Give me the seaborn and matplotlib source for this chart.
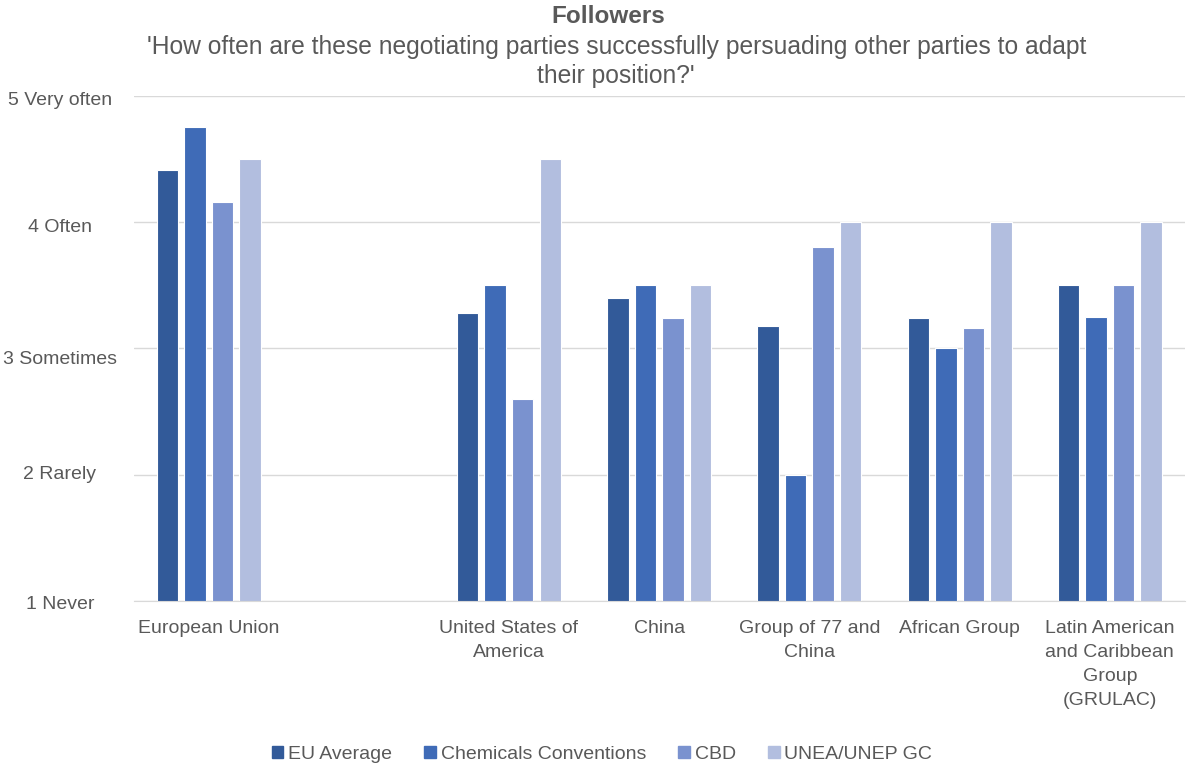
import numpy as np
import pandas as pd
import seaborn as sns
import matplotlib.pyplot as plt
from matplotlib.transforms import ScaledTranslation

# Chart data
categories = [
    "European Union",
    "",
    "United States of\nAmerica",
    "China",
    "Group of 77 and\nChina",
    "African Group",
    "Latin American\nand Caribbean\nGroup\n(GRULAC)",
]
series = ["EU Average", "Chemicals Conventions", "CBD", "UNEA/UNEP GC"]
eu_average = [4.41, np.nan, 3.28, 3.40, 3.18, 3.24, 3.50]
chemicals = [4.75, np.nan, 3.50, 3.50, 2.00, 3.00, 3.25]
cbd = [4.16, np.nan, 2.60, 3.24, 3.80, 3.16, 3.50]
unea = [4.50, np.nan, 4.50, 3.50, 4.00, 4.00, 4.00]
y_ticks = [1, 2, 3, 4, 5]
y_labels = ["1 Never", "2 Rarely", "3 Sometimes", "4 Often", "5 Very often"]

colors = ["#325A99", "#3F6BB7", "#7A92CF", "#B2BEDF"]
TEXT = "#595959"

rows = []
for name, vals in zip(series, [eu_average, chemicals, cbd, unea]):
    for cat, v in zip(categories, vals):
        rows.append({"party": cat, "series": name, "score": v})
df = pd.DataFrame(rows)

sns.set_style("white")
plt.rcParams["font.family"] = ["Liberation Sans", "DejaVu Sans"]

fig = plt.figure(figsize=(11.92, 7.68), dpi=100)
ax = fig.add_axes([0.112, 0.2175, 0.882, 0.658])

sns.barplot(
    data=df, x="party", y="score", hue="series", order=categories,
    hue_order=series, palette=colors, saturation=1, width=0.733, gap=0.22,
    edgecolor="white", linewidth=0.8, legend=False, ax=ax,
)

ax.set_ylim(1, 5)
ax.set_xlim(-0.5, len(categories) - 0.5)
ax.set_yticks(y_ticks)
ax.set_yticklabels(y_labels)
ax.yaxis.grid(True, color="#D9D9D9", linewidth=1)
ax.set_axisbelow(True)
for s in ["top", "right", "left"]:
    ax.spines[s].set_visible(False)
ax.spines["bottom"].set_color("#D9D9D9")
ax.tick_params(axis="y", length=0, pad=53, labelsize=14, labelcolor=TEXT)
# small vertical nudges like the original wrapped axis labels
nudges = [-2, 2, -9, -4, -3]
for lbl, dy in zip(ax.get_yticklabels(), nudges):
    lbl.set_horizontalalignment("center")
    lbl.set_transform(lbl.get_transform() + ScaledTranslation(0, dy / 100, fig.dpi_scale_trans))
ax.tick_params(axis="x", length=0, pad=14, labelsize=14, labelcolor=TEXT)
for lbl in ax.get_xticklabels():
    lbl.set_linespacing(1.53)
ax.set_xlabel("")
ax.set_ylabel("")

fig.text(0.51, 0.979, "Followers", ha="center", va="center",
         fontsize=17.5, fontweight="bold", color=TEXT)
fig.text(0.517, 0.92,
         "'How often are these negotiating parties successfully persuading other parties to adapt\ntheir position?'",
         ha="center", va="center", fontsize=17.7, color=TEXT, linespacing=1.25)

handles = [plt.Rectangle((0, 0), 1, 1, color=c) for c in colors]
fig.legend(handles, series, loc="center", bbox_to_anchor=(0.505, 0.018),
           ncol=4, frameon=False, fontsize=14, labelcolor=TEXT,
           handlelength=0.6, handleheight=0.6, handletextpad=0.25,
           columnspacing=1.65)

fig.savefig("out.png", dpi=100)
